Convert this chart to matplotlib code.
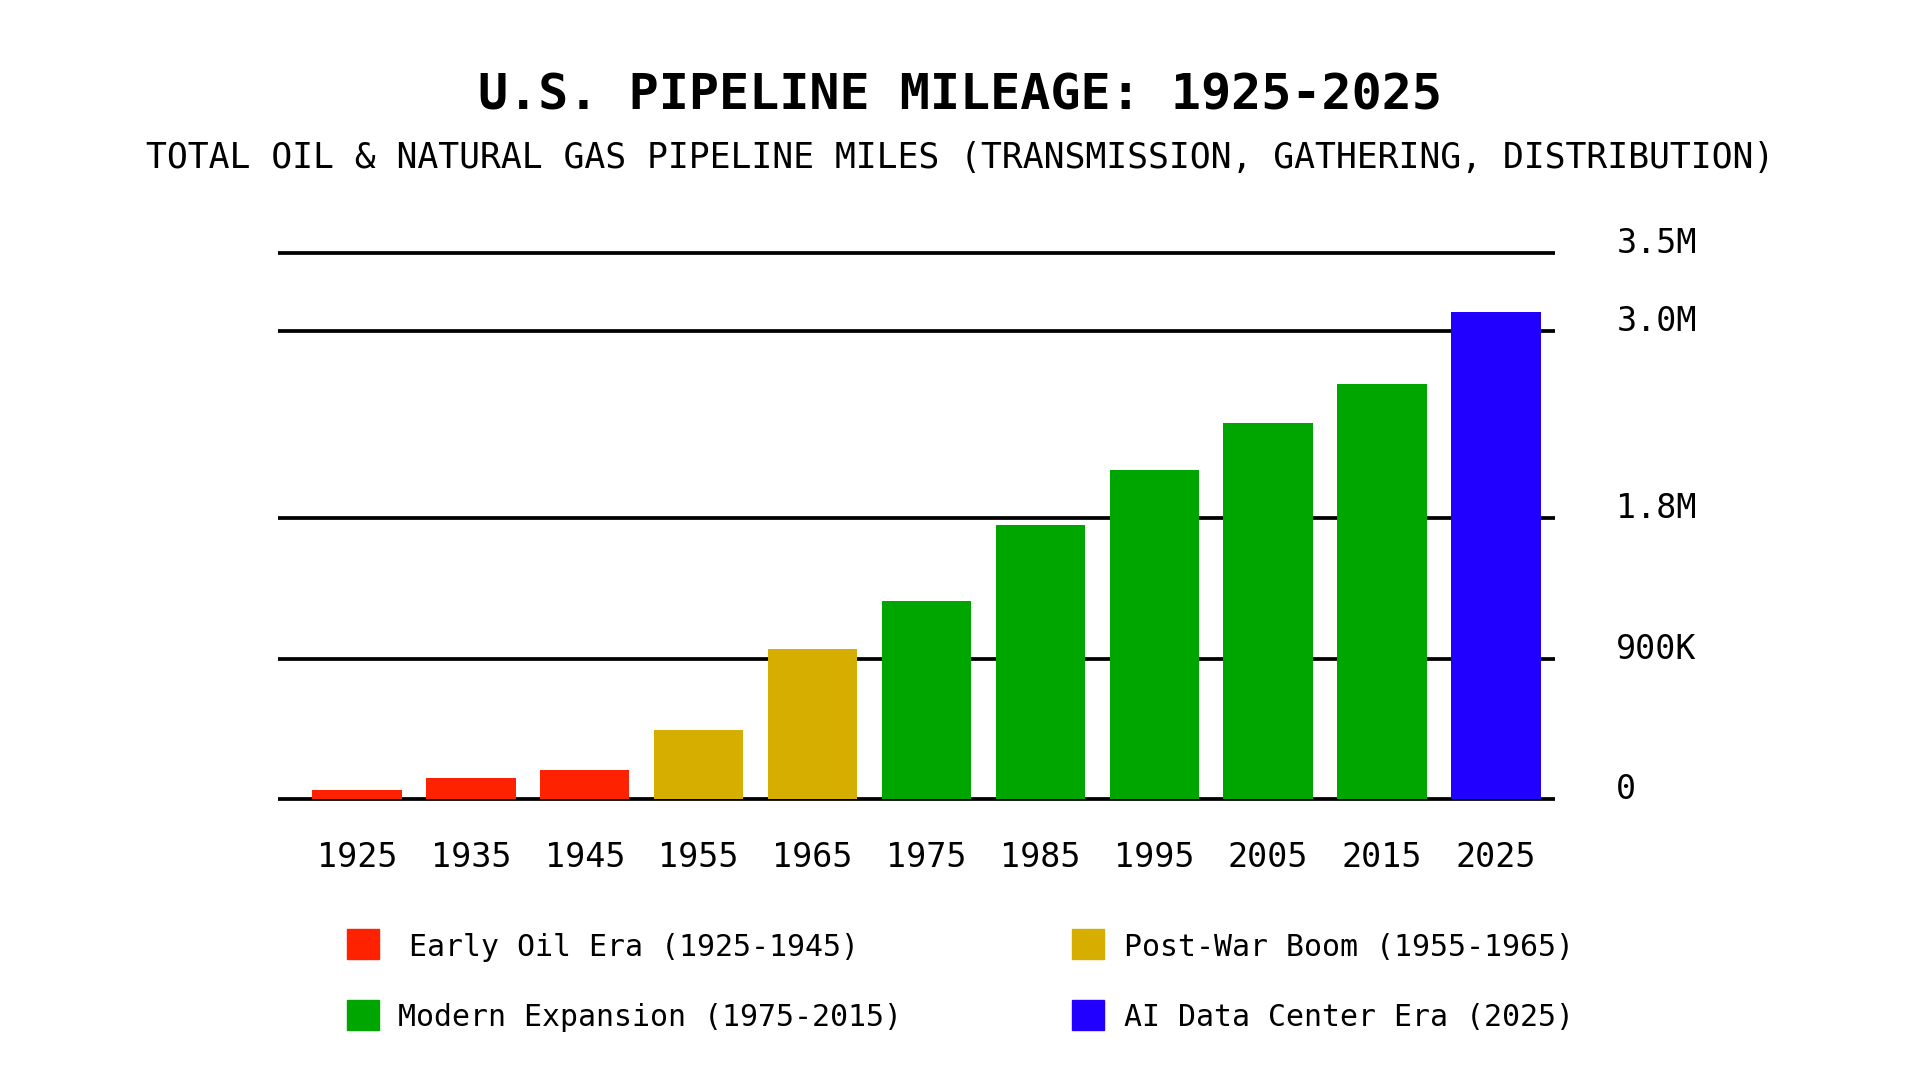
import matplotlib
matplotlib.use("Agg")
import matplotlib.pyplot as plt
from matplotlib.patches import Rectangle

plt.rcParams['font.family'] = ['DejaVu Sans Mono', 'DejaVu Sans']

years = ["1925", "1935", "1945", "1955", "1965", "1975", "1985", "1995", "2005", "2015", "2025"]
miles = [60000, 135000, 185000, 445000, 960000, 1270000, 1755000, 2110000, 2410000, 2660000, 3120000]
eras = ["early", "early", "early", "postwar", "postwar", "modern", "modern", "modern", "modern", "modern", "ai"]
era_colors = {"early": "#FF2200", "postwar": "#D6AE00", "modern": "#00A600", "ai": "#2200FF"}
legend_keys = ["early", "postwar", "modern", "ai"]
legend_labels = ["Early Oil Era (1925-1945)", "Post-War Boom (1955-1965)",
                 "Modern Expansion (1975-2015)", "AI Data Center Era (2025)"]
ytick_vals = [0, 900000, 1800000, 3000000, 3500000]
ytick_labels = ["0", "900K", "1.8M", "3.0M", "3.5M"]

fig = plt.figure(figsize=(19.2, 10.8), dpi=100)
fig.patch.set_facecolor("white")
ax = fig.add_axes([0.145, 0.260, 0.665, 0.506])

x = list(range(len(years)))
ax.bar(x, miles, width=0.785, color=[era_colors[e] for e in eras], zorder=3)

ax.set_xlim(-0.69, 10.52)
ax.set_ylim(0, 3500000)
ax.set_yticks(ytick_vals)
ax.set_yticklabels(ytick_labels)
ax.yaxis.tick_right()
ax.set_xticks(x)
ax.set_xticklabels(years)
ax.tick_params(axis='y', length=0, pad=44, labelsize=24)
ax.tick_params(axis='x', length=0, pad=30, labelsize=24)
for lbl in ax.get_yticklabels():
    lbl.set_va('baseline')
    lbl.set_ha('left')
ax.grid(axis='y', color='black', linewidth=2.7, zorder=1)
ax.set_axisbelow(True)
for gl in ax.get_ygridlines():
    gl.set_clip_on(False)
    gl.set_solid_capstyle('butt')
for s in ax.spines.values():
    s.set_visible(False)

fig.text(0.5, 1 - 96 / 1080, "U.S. PIPELINE MILEAGE: 1925-2025", ha='center', va='center',
         fontsize=36, fontweight='bold')
fig.text(0.5, 1 - 158 / 1080,
         "TOTAL OIL & NATURAL GAS PIPELINE MILES (TRANSMISSION, GATHERING, DISTRIBUTION)",
         ha='center', va='center', fontsize=25)

# legend (2x2)
sq_x = [347, 1072, 347, 1072]
txt_x = [409, 1124, 398, 1124]
row_y = [947, 947, 1018, 1018]
for k, lab, sx, tx, ry in zip(legend_keys, legend_labels, sq_x, txt_x, row_y):
    fig.patches.append(Rectangle((sx / 1920, 1 - (ry + 12) / 1080), 32 / 1920, 30 / 1080,
                                 transform=fig.transFigure, color=era_colors[k]))
    fig.text(tx / 1920, 1 - ry / 1080, lab, ha='left', va='center', fontsize=21.5)

fig.savefig("out.png", dpi=100, facecolor="white")
